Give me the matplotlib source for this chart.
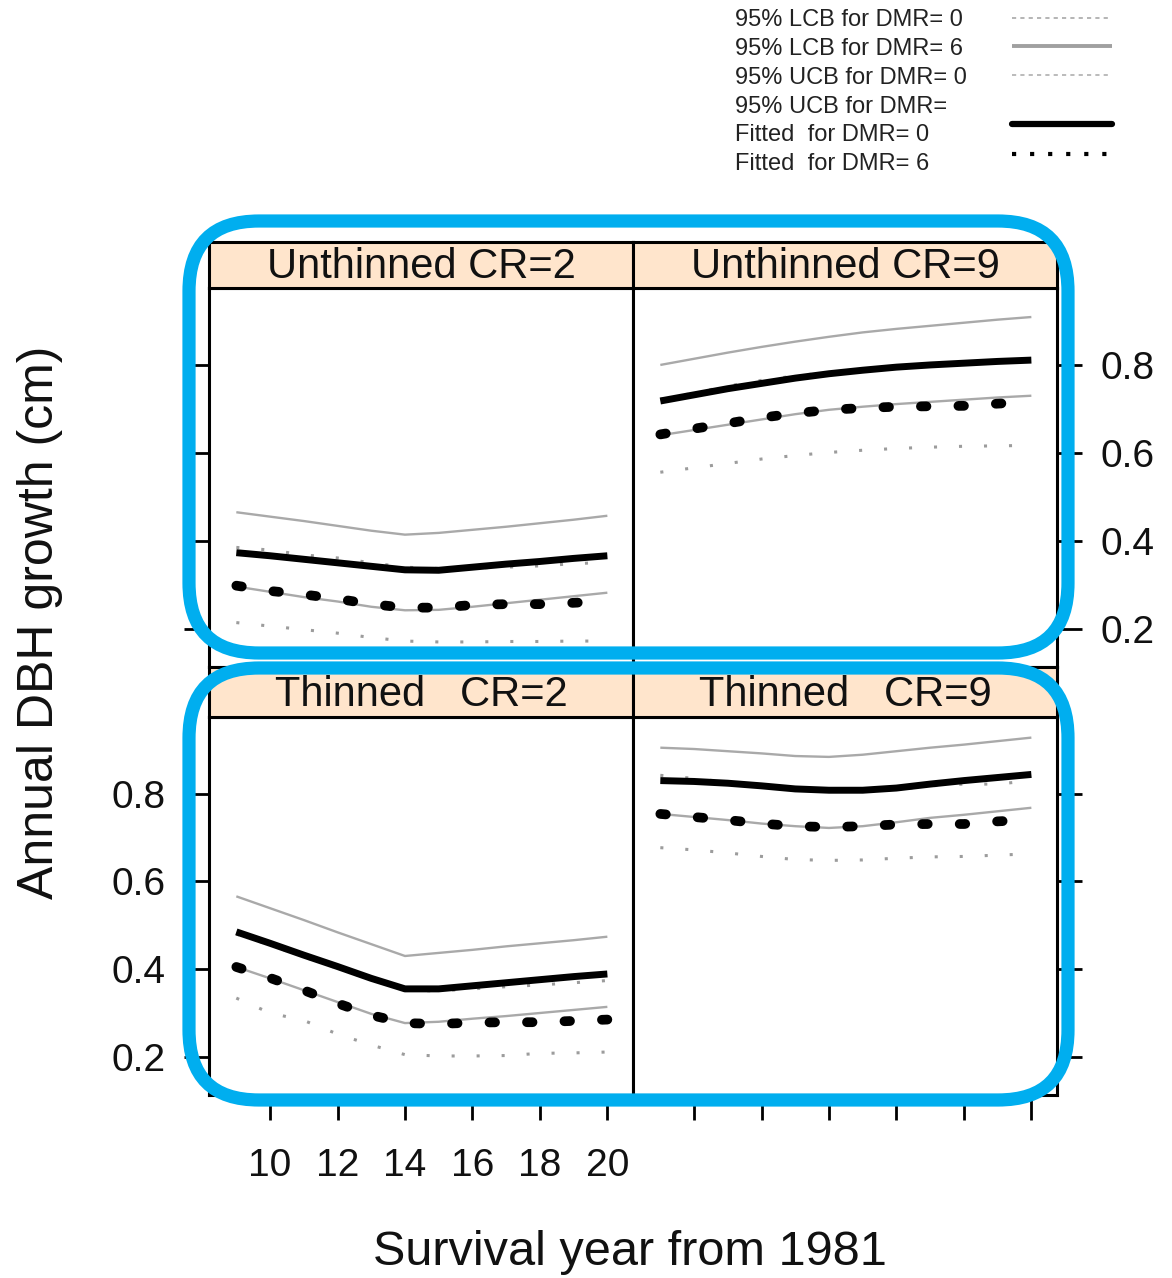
import matplotlib
matplotlib.use("Agg")
import matplotlib.pyplot as plt
from matplotlib.patches import FancyBboxPatch
from matplotlib.lines import Line2D

plt.rcParams['font.family'] = ['Liberation Sans', 'DejaVu Sans']
plt.rcParams['lines.scale_dashes'] = False

# ---------------- data ----------------
years = [9, 10, 11, 12, 13, 14, 15, 16, 17, 18, 19, 20]
x_ticks = [10, 12, 14, 16, 18, 20]
y_ticks = [0.2, 0.4, 0.6, 0.8]
y_tick_labels = ["0.2", "0.4", "0.6", "0.8"]
panel_titles = ["Unthinned CR=2", "Unthinned CR=9", "Thinned   CR=2", "Thinned   CR=9"]

# Unthinned CR=2
u2_ucb6 = [0.465, 0.455, 0.445, 0.434, 0.423, 0.414, 0.418, 0.425, 0.432, 0.440, 0.448, 0.457]
u2_fit0 = [0.373, 0.366, 0.358, 0.350, 0.342, 0.334, 0.333, 0.340, 0.347, 0.353, 0.360, 0.366]
u2_ucb0 = [0.385, 0.379, 0.368, 0.361, 0.350, 0.340, 0.337, 0.338, 0.340, 0.343, 0.348, 0.351]
u2_fit6 = [0.298, 0.286, 0.278, 0.268, 0.256, 0.248, 0.248, 0.254, 0.256, 0.256, 0.259, 0.263]
u2_lcb6 = [0.296, 0.284, 0.272, 0.262, 0.250, 0.242, 0.243, 0.250, 0.258, 0.266, 0.274, 0.282]
u2_lcb0 = [0.214, 0.206, 0.198, 0.190, 0.180, 0.172, 0.170, 0.170, 0.171, 0.171, 0.172, 0.172]

# Unthinned CR=9
u9_ucb6 = [0.800, 0.814, 0.828, 0.841, 0.853, 0.864, 0.874, 0.882, 0.889, 0.896, 0.903, 0.909]
u9_fit0 = [0.718, 0.732, 0.746, 0.758, 0.770, 0.780, 0.788, 0.795, 0.800, 0.804, 0.808, 0.811]
u9_ucb0 = [0.722, 0.736, 0.752, 0.765, 0.775, 0.783, 0.790, 0.796, 0.800, 0.803, 0.806, 0.808]
u9_fit6 = [0.642, 0.655, 0.667, 0.680, 0.690, 0.698, 0.702, 0.705, 0.706, 0.707, 0.712, 0.716]
u9_lcb6 = [0.640, 0.652, 0.664, 0.676, 0.688, 0.698, 0.705, 0.711, 0.716, 0.721, 0.726, 0.730]
u9_lcb0 = [0.556, 0.566, 0.576, 0.586, 0.594, 0.601, 0.606, 0.610, 0.613, 0.615, 0.616, 0.617]

# Thinned CR=2
t2_ucb6 = [0.566, 0.539, 0.512, 0.484, 0.457, 0.430, 0.437, 0.444, 0.452, 0.459, 0.466, 0.474]
t2_fit0 = [0.485, 0.459, 0.432, 0.406, 0.379, 0.355, 0.355, 0.362, 0.369, 0.376, 0.383, 0.389]
t2_ucb0 = [0.480, 0.455, 0.428, 0.402, 0.376, 0.352, 0.350, 0.355, 0.360, 0.364, 0.369, 0.374]
t2_fit6 = [0.405, 0.380, 0.352, 0.322, 0.295, 0.277, 0.275, 0.278, 0.279, 0.279, 0.282, 0.285]
t2_lcb6 = [0.405, 0.379, 0.352, 0.325, 0.298, 0.277, 0.280, 0.287, 0.293, 0.300, 0.307, 0.314]
t2_lcb0 = [0.334, 0.300, 0.283, 0.252, 0.227, 0.205, 0.202, 0.202, 0.203, 0.208, 0.209, 0.211]

# Thinned CR=9
t9_ucb6 = [0.905, 0.902, 0.897, 0.892, 0.886, 0.884, 0.889, 0.897, 0.905, 0.912, 0.920, 0.928]
t9_fit0 = [0.830, 0.828, 0.824, 0.818, 0.811, 0.808, 0.808, 0.813, 0.822, 0.830, 0.837, 0.844]
t9_ucb0 = [0.842, 0.835, 0.826, 0.818, 0.811, 0.806, 0.806, 0.809, 0.818, 0.822, 0.822, 0.830]
t9_fit6 = [0.754, 0.747, 0.740, 0.732, 0.726, 0.724, 0.726, 0.730, 0.731, 0.731, 0.737, 0.741]
t9_lcb6 = [0.754, 0.747, 0.740, 0.732, 0.726, 0.722, 0.726, 0.735, 0.745, 0.752, 0.760, 0.768]
t9_lcb0 = [0.677, 0.672, 0.665, 0.657, 0.650, 0.648, 0.649, 0.653, 0.656, 0.657, 0.660, 0.663]

legend_labels = ["95% LCB for DMR= 0", "95% LCB for DMR= 6", "95% UCB for DMR= 0",
                 "95% UCB for DMR=", "Fitted  for DMR= 0", "Fitted  for DMR= 6"]

panels = [
    dict(ucb6=u2_ucb6, fit0=u2_fit0, ucb0=u2_ucb0, fit6=u2_fit6, lcb6=u2_lcb6, lcb0=u2_lcb0),
    dict(ucb6=u9_ucb6, fit0=u9_fit0, ucb0=u9_ucb0, fit6=u9_fit6, lcb6=u9_lcb6, lcb0=u9_lcb0),
    dict(ucb6=t2_ucb6, fit0=t2_fit0, ucb0=t2_ucb0, fit6=t2_fit6, lcb6=t2_lcb6, lcb0=t2_lcb0),
    dict(ucb6=t9_ucb6, fit0=t9_fit0, ucb0=t9_ucb0, fit6=t9_fit6, lcb6=t9_lcb6, lcb0=t9_lcb0),
]

# ---------------- styles ----------------
GRAY_SOLID = dict(color='#a9a9a9', lw=1.7, solid_capstyle='butt')
GRAY_DOT = dict(color='#9c9c9c', lw=2.2, linestyle=(0, (2.2, 15.8)), dash_capstyle='butt')
BLACK_SOLID = dict(color='black', lw=5.0, solid_capstyle='butt')
BLACK_DOT = dict(color='black', lw=7.0, linestyle=(0, (4.0, 23.0)), dash_capstyle='round')

W, H = 1172, 1278
fig = plt.figure(figsize=(W / 100, H / 100), dpi=100)


def fa(x0, y0, x1, y1):
    return [x0 / W, 1 - y1 / H, (x1 - x0) / W, (y1 - y0) / H]


cols = [(209, 633), (633, 1057)]
rows = [dict(strip=(242, 288), plot=(288, 667)), dict(strip=(667, 717), plot=(717, 1095))]
XLIM = (8.19, 20.76)
YLIM = (0.113, 0.975)
SPINE_W = 2.2

for r in range(2):
    for c in range(2):
        i = r * 2 + c
        x0, x1 = cols[c]
        py0, py1 = rows[r]['plot']
        sy0, sy1 = rows[r]['strip']
        ax = fig.add_axes(fa(x0, py0, x1, py1))
        d = panels[i]
        ax.plot(years, d['ucb6'], **GRAY_SOLID, zorder=2)
        ax.plot(years, d['lcb6'], **GRAY_SOLID, zorder=2)
        ax.plot(years, d['ucb0'], **GRAY_DOT, zorder=2)
        ax.plot(years, d['lcb0'], **GRAY_DOT, zorder=2)
        ax.plot(years, d['fit0'], **BLACK_SOLID, zorder=3)
        ax.plot(years, d['fit6'], **BLACK_DOT, zorder=3)
        ax.set_xlim(*XLIM)
        ax.set_ylim(*YLIM)
        for s in ax.spines.values():
            s.set_linewidth(SPINE_W)
        ax.set_yticks(y_ticks)
        ax.set_yticklabels(y_tick_labels)
        ax.set_xticks(x_ticks)
        ax.set_xticklabels([str(v) for v in x_ticks])
        ax.tick_params(direction='out', length=18, width=2.0, labelsize=28, pad=13,
                       labelcolor='#111111')
        if r == 0:
            ax.tick_params(axis='x', bottom=False, labelbottom=False, top=False)
            if c == 0:
                ax.tick_params(axis='y', left=True, right=False, labelleft=False, labelright=False)
            else:
                ax.tick_params(axis='y', left=False, right=True, labelleft=False, labelright=True)
        else:
            ax.tick_params(axis='x', bottom=True, top=False, labelbottom=(c == 0), pad=20)
            if c == 0:
                ax.tick_params(axis='y', left=True, right=False, labelleft=True, labelright=False)
            else:
                ax.tick_params(axis='y', left=False, right=True, labelleft=False, labelright=False)
        # strip
        sax = fig.add_axes(fa(x0, sy0, x1, sy1))
        sax.set_facecolor('#ffe5cc')
        sax.set_xticks([])
        sax.set_yticks([])
        for s in sax.spines.values():
            s.set_linewidth(SPINE_W)
        sax.text(0.5, 0.45, panel_titles[i], transform=sax.transAxes, ha='center', va='center',
                 fontsize=30, color='#111111')

# overlay in pixel coordinates
ov = fig.add_axes([0, 0, 1, 1], zorder=20)
ov.set_xlim(0, W)
ov.set_ylim(H, 0)
ov.axis('off')
ov.patch.set_alpha(0)

BLUE = '#00aeef'
for (bx0, by0, bx1, by1) in [(189, 221, 1068, 653), (189, 668, 1068, 1100)]:
    ov.add_patch(FancyBboxPatch((bx0, by0), bx1 - bx0, by1 - by0,
                                boxstyle="round,pad=0,rounding_size=70",
                                fill=False, edgecolor=BLUE, linewidth=9.5))

# axis titles
ov.text(630, 1265, "Survival year from 1981", ha='center', va='baseline', fontsize=35, color='#111111')
ov.text(40, 622, "Annual DBH growth (cm)", ha='center', va='center', rotation=90,
        fontsize=36, color='#111111')

# legend
leg_text_y = [20, 49, 78, 107, 135, 164]
for lab, ty in zip(legend_labels, leg_text_y):
    ov.text(735, ty, lab, ha='left', va='center', fontsize=17, color='#222222')
leg_styles = [
    (18, dict(color='#a0a0a0', lw=1.1, linestyle=(0, (3, 3)))),
    (46, dict(color='#a0a0a0', lw=2.8, solid_capstyle='butt')),
    (75, dict(color='#a8a8a8', lw=1.1, linestyle=(0, (3, 3)))),
    (124, dict(color='black', lw=4.5, solid_capstyle='round')),
    (154, dict(color='black', lw=3.0, linestyle=(0, (3, 10)), dash_capstyle='butt')),
]
for ly, st in leg_styles:
    ov.add_line(Line2D([1012, 1112], [ly, ly], **st))

fig.savefig("out.png", dpi=100)
